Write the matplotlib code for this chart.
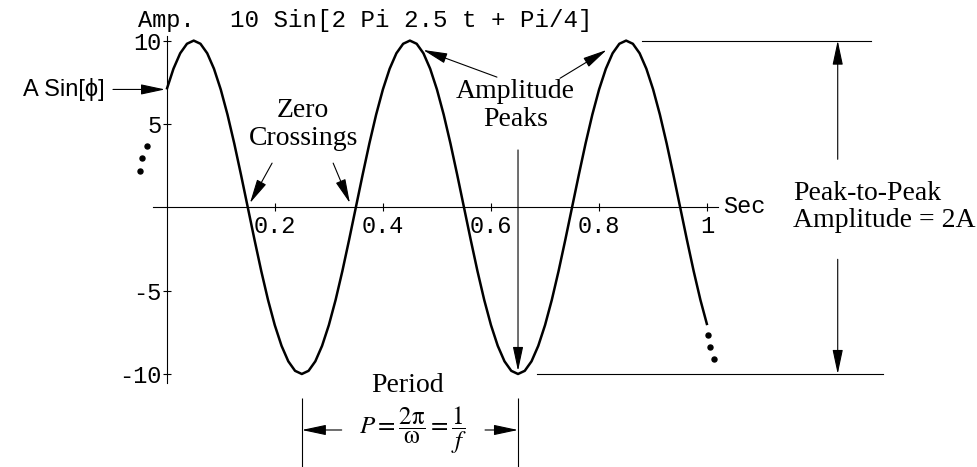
import numpy as np
import matplotlib.pyplot as plt

plt.rcParams['mathtext.fontset'] = 'stix'

# sampled signal, t from 0 to 1 s in steps of 0.0125
t = np.linspace(0, 1, 81)
amp = [7.07, 8.31, 9.24, 9.81, 10.0, 9.81, 9.24, 8.31,
       7.07, 5.56, 3.83, 1.95, 0.0, -1.95, -3.83, -5.56,
       -7.07, -8.31, -9.24, -9.81, -10.0, -9.81, -9.24, -8.31,
       -7.07, -5.56, -3.83, -1.95, 0.0, 1.95, 3.83, 5.56,
       7.07, 8.31, 9.24, 9.81, 10.0, 9.81, 9.24, 8.31,
       7.07, 5.56, 3.83, 1.95, 0.0, -1.95, -3.83, -5.56,
       -7.07, -8.31, -9.24, -9.81, -10.0, -9.81, -9.24, -8.31,
       -7.07, -5.56, -3.83, -1.95, 0.0, 1.95, 3.83, 5.56,
       7.07, 8.31, 9.24, 9.81, 10.0, 9.81, 9.24, 8.31,
       7.07, 5.56, 3.83, 1.95, 0.0, -1.95, -3.83, -5.56, -7.07]

xticks = [0.2, 0.4, 0.6, 0.8, 1]
xticklabels = ['0.2', '0.4', '0.6', '0.8', '1']
yticks = [-10, -5, 5, 10]
yticklabels = ['-10', '-5', '5', '10']

# "continues" dots at both ends of the trace
dots_left_t = [-0.037, -0.045, -0.050]
dots_left_y = [3.70, 2.94, 2.18]
dots_right_t = [1.001, 1.005, 1.013]
dots_right_y = [-7.66, -8.40, -9.10]

zero_t = [0.15, 0.35]
peak_t = [0.45, 0.85]
trough_t = [0.25, 0.65]
A = 10.0
phase_val = 7.07

mono = 'Liberation Mono'
serif = 'Liberation Serif'
sans = 'Liberation Sans'

fig = plt.figure(figsize=(9.77, 4.67), dpi=100)
ax = fig.add_axes([0, 0, 1, 1])
ax.set_xlim(-0.3084, 1.4992)
ax.set_ylim(-15.58, 12.436)

for s in ['top', 'right']:
    ax.spines[s].set_visible(False)
ax.spines['left'].set_position(('data', 0))
ax.spines['bottom'].set_position(('data', 0))
ax.spines['left'].set_bounds(-10.55, 10.25)
ax.spines['bottom'].set_bounds(-0.025, 1.02)
for s in ['left', 'bottom']:
    ax.spines[s].set_linewidth(0.8)

ax.set_xticks(xticks)
ax.set_xticklabels(xticklabels, family=mono, fontsize=17)
ax.set_yticks(yticks)
ax.set_yticklabels(yticklabels, family=mono, fontsize=17)
ax.tick_params(axis='x', direction='inout', length=5.5, width=0.8, pad=2.5)
ax.tick_params(axis='y', direction='inout', length=5.5, width=0.8, pad=1)

ax.plot(t, amp, color='black', lw=1.8, solid_capstyle='butt')
ax.plot(dots_left_t, dots_left_y, 'o', color='black', ms=3.6)
ax.plot(dots_right_t, dots_right_y, 'o', color='black', ms=3.6)

ax.text(-0.0525, 10.83, 'Amp.', family=mono, fontsize=17, ha='left', va='baseline')
ax.text(0.117, 10.83, '10 Sin[2 Pi 2.5 t + Pi/4]', family=mono, fontsize=17.4,
        ha='left', va='baseline')
ax.text(1.03, 0.05, 'Sec', family=mono, fontsize=17, ha='left', va='center')

arrow = dict(arrowstyle='-|>,head_length=1.5,head_width=0.32', color='black',
             lw=0.8, shrinkA=0, shrinkB=0, mutation_scale=10)

# initial value
ax.text(-0.114, phase_val, 'A Sin[\u03d5]', family=[sans, 'DejaVu Sans'], fontsize=17,
        ha='right', va='center')
ax.annotate('', xy=(-0.003, phase_val), xytext=(-0.0994, phase_val), arrowprops=arrow)

# zero crossings
ax.text(0.2527, 5.42, 'Zero', family=serif, fontsize=20, ha='center', va='baseline')
ax.text(0.2527, 3.75, 'Crossings', family=serif, fontsize=20, ha='center', va='baseline')
ax.annotate('', xy=(zero_t[0] + 0.004, 0.25), xytext=(0.195, 2.65), arrowprops=arrow)
ax.annotate('', xy=(zero_t[1] - 0.011, 0.25), xytext=(0.308, 2.65), arrowprops=arrow)

# amplitude peaks
ax.text(0.645, 6.55, 'Amplitude', family=serif, fontsize=20, ha='center', va='baseline')
ax.text(0.645, 4.87, 'Peaks', family=serif, fontsize=20, ha='center', va='baseline')
ax.annotate('', xy=(peak_t[0] + 0.0245, 9.44), xytext=(0.611, 7.81), arrowprops=arrow)
ax.annotate('', xy=(peak_t[1] - 0.036, 9.44), xytext=(0.7277, 7.74), arrowprops=arrow)
ax.annotate('', xy=(trough_t[1], -A + 0.18), xytext=(trough_t[1], 3.44), arrowprops=arrow)

# peak-to-peak
ax.plot([0.879, 1.304], [A, A], color='black', lw=0.8)
ax.plot([0.685, 1.326], [-A, -A], color='black', lw=0.8)
ax.annotate('', xy=(1.2415, A), xytext=(1.2415, 2.88), arrowprops=arrow)
ax.annotate('', xy=(1.2415, -A), xytext=(1.2415, -3.12), arrowprops=arrow)
ax.text(1.1593, 0.44, 'Peak-to-Peak', family=serif, fontsize=20, ha='left', va='baseline')
ax.text(1.1593, -1.2, 'Amplitude = 2A', family=serif, fontsize=20, ha='left', va='baseline')

# period
ax.text(0.4455, -11.06, 'Period', family=serif, fontsize=20, ha='center', va='baseline')
ax.vlines(trough_t, -15.58, -11.46, color='black', lw=0.8)
ax.annotate('', xy=(trough_t[0], -13.36), xytext=(0.3238, -13.36), arrowprops=arrow)
ax.annotate('', xy=(trough_t[1], -13.36), xytext=(0.589, -13.36), arrowprops=arrow)
ax.text(0.4557, -13.36, r'$P = \dfrac{2\mathrm{\pi}}{\mathrm{\omega}} = \dfrac{1}{f}$',
        fontsize=18, ha='center', va='center')

fig.savefig('out.png', dpi=100)
